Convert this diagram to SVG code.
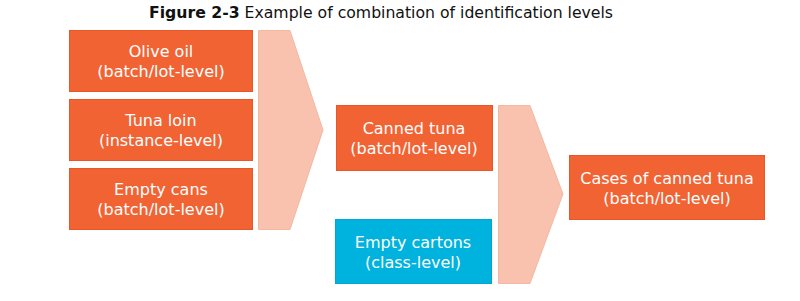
<svg xmlns="http://www.w3.org/2000/svg" width="800" height="301" viewBox="0 0 800 301">
<style>
.box{fill:#F26334;stroke:#E8572A;stroke-width:1}
.blue{fill:#00B3DE;stroke:#00A8D2;stroke-width:1}
.arr{fill:#F8C2AE;stroke:#F4B8A2;stroke-width:1}
.t{font-family:"DejaVu Sans",Verdana,sans-serif;font-size:16px;fill:#fff;text-anchor:middle}
.title{font-family:"DejaVu Sans",Verdana,sans-serif;font-size:15.5px;fill:#111}
</style>
<rect width="800" height="301" fill="#fff"/>
<text class="title" x="149" y="18" textLength="464" lengthAdjust="spacingAndGlyphs"><tspan font-weight="bold">Figure 2-3</tspan> Example of combination of identification levels</text>
<g id="connectors">
<polygon class="arr" points="258.5,30.5 290,30.5 323,130 290,229.5 258.5,229.5"/>
<polygon class="arr" points="498.5,105.5 530,105.5 563,194 530,283.5 498.5,283.5"/>
</g>
<g id="olive-oil"><rect class="box" x="69.5" y="30.5" width="183" height="61"/>
<text class="t" x="161" y="57">Olive oil</text><text class="t" x="161" y="77">(batch/lot-level)</text></g>
<g id="tuna-loin"><rect class="box" x="69.5" y="99.5" width="183" height="61"/>
<text class="t" x="161" y="126">Tuna loin</text><text class="t" x="161" y="146">(instance-level)</text></g>
<g id="empty-cans"><rect class="box" x="69.5" y="168.5" width="183" height="61"/>
<text class="t" x="161" y="195">Empty cans</text><text class="t" x="161" y="215">(batch/lot-level)</text></g>
<g id="canned-tuna"><rect class="box" x="336.5" y="105.5" width="156" height="65"/>
<text class="t" x="414" y="134">Canned tuna</text><text class="t" x="414" y="154">(batch/lot-level)</text></g>
<g id="empty-cartons"><rect class="blue" x="335.5" y="219.5" width="156" height="64"/>
<text class="t" x="413" y="248">Empty cartons</text><text class="t" x="413" y="268">(class-level)</text></g>
<g id="cases"><rect class="box" x="569.5" y="155.5" width="195" height="64"/>
<text class="t" x="667" y="184">Cases of canned tuna</text><text class="t" x="667" y="204">(batch/lot-level)</text></g>
</svg>
